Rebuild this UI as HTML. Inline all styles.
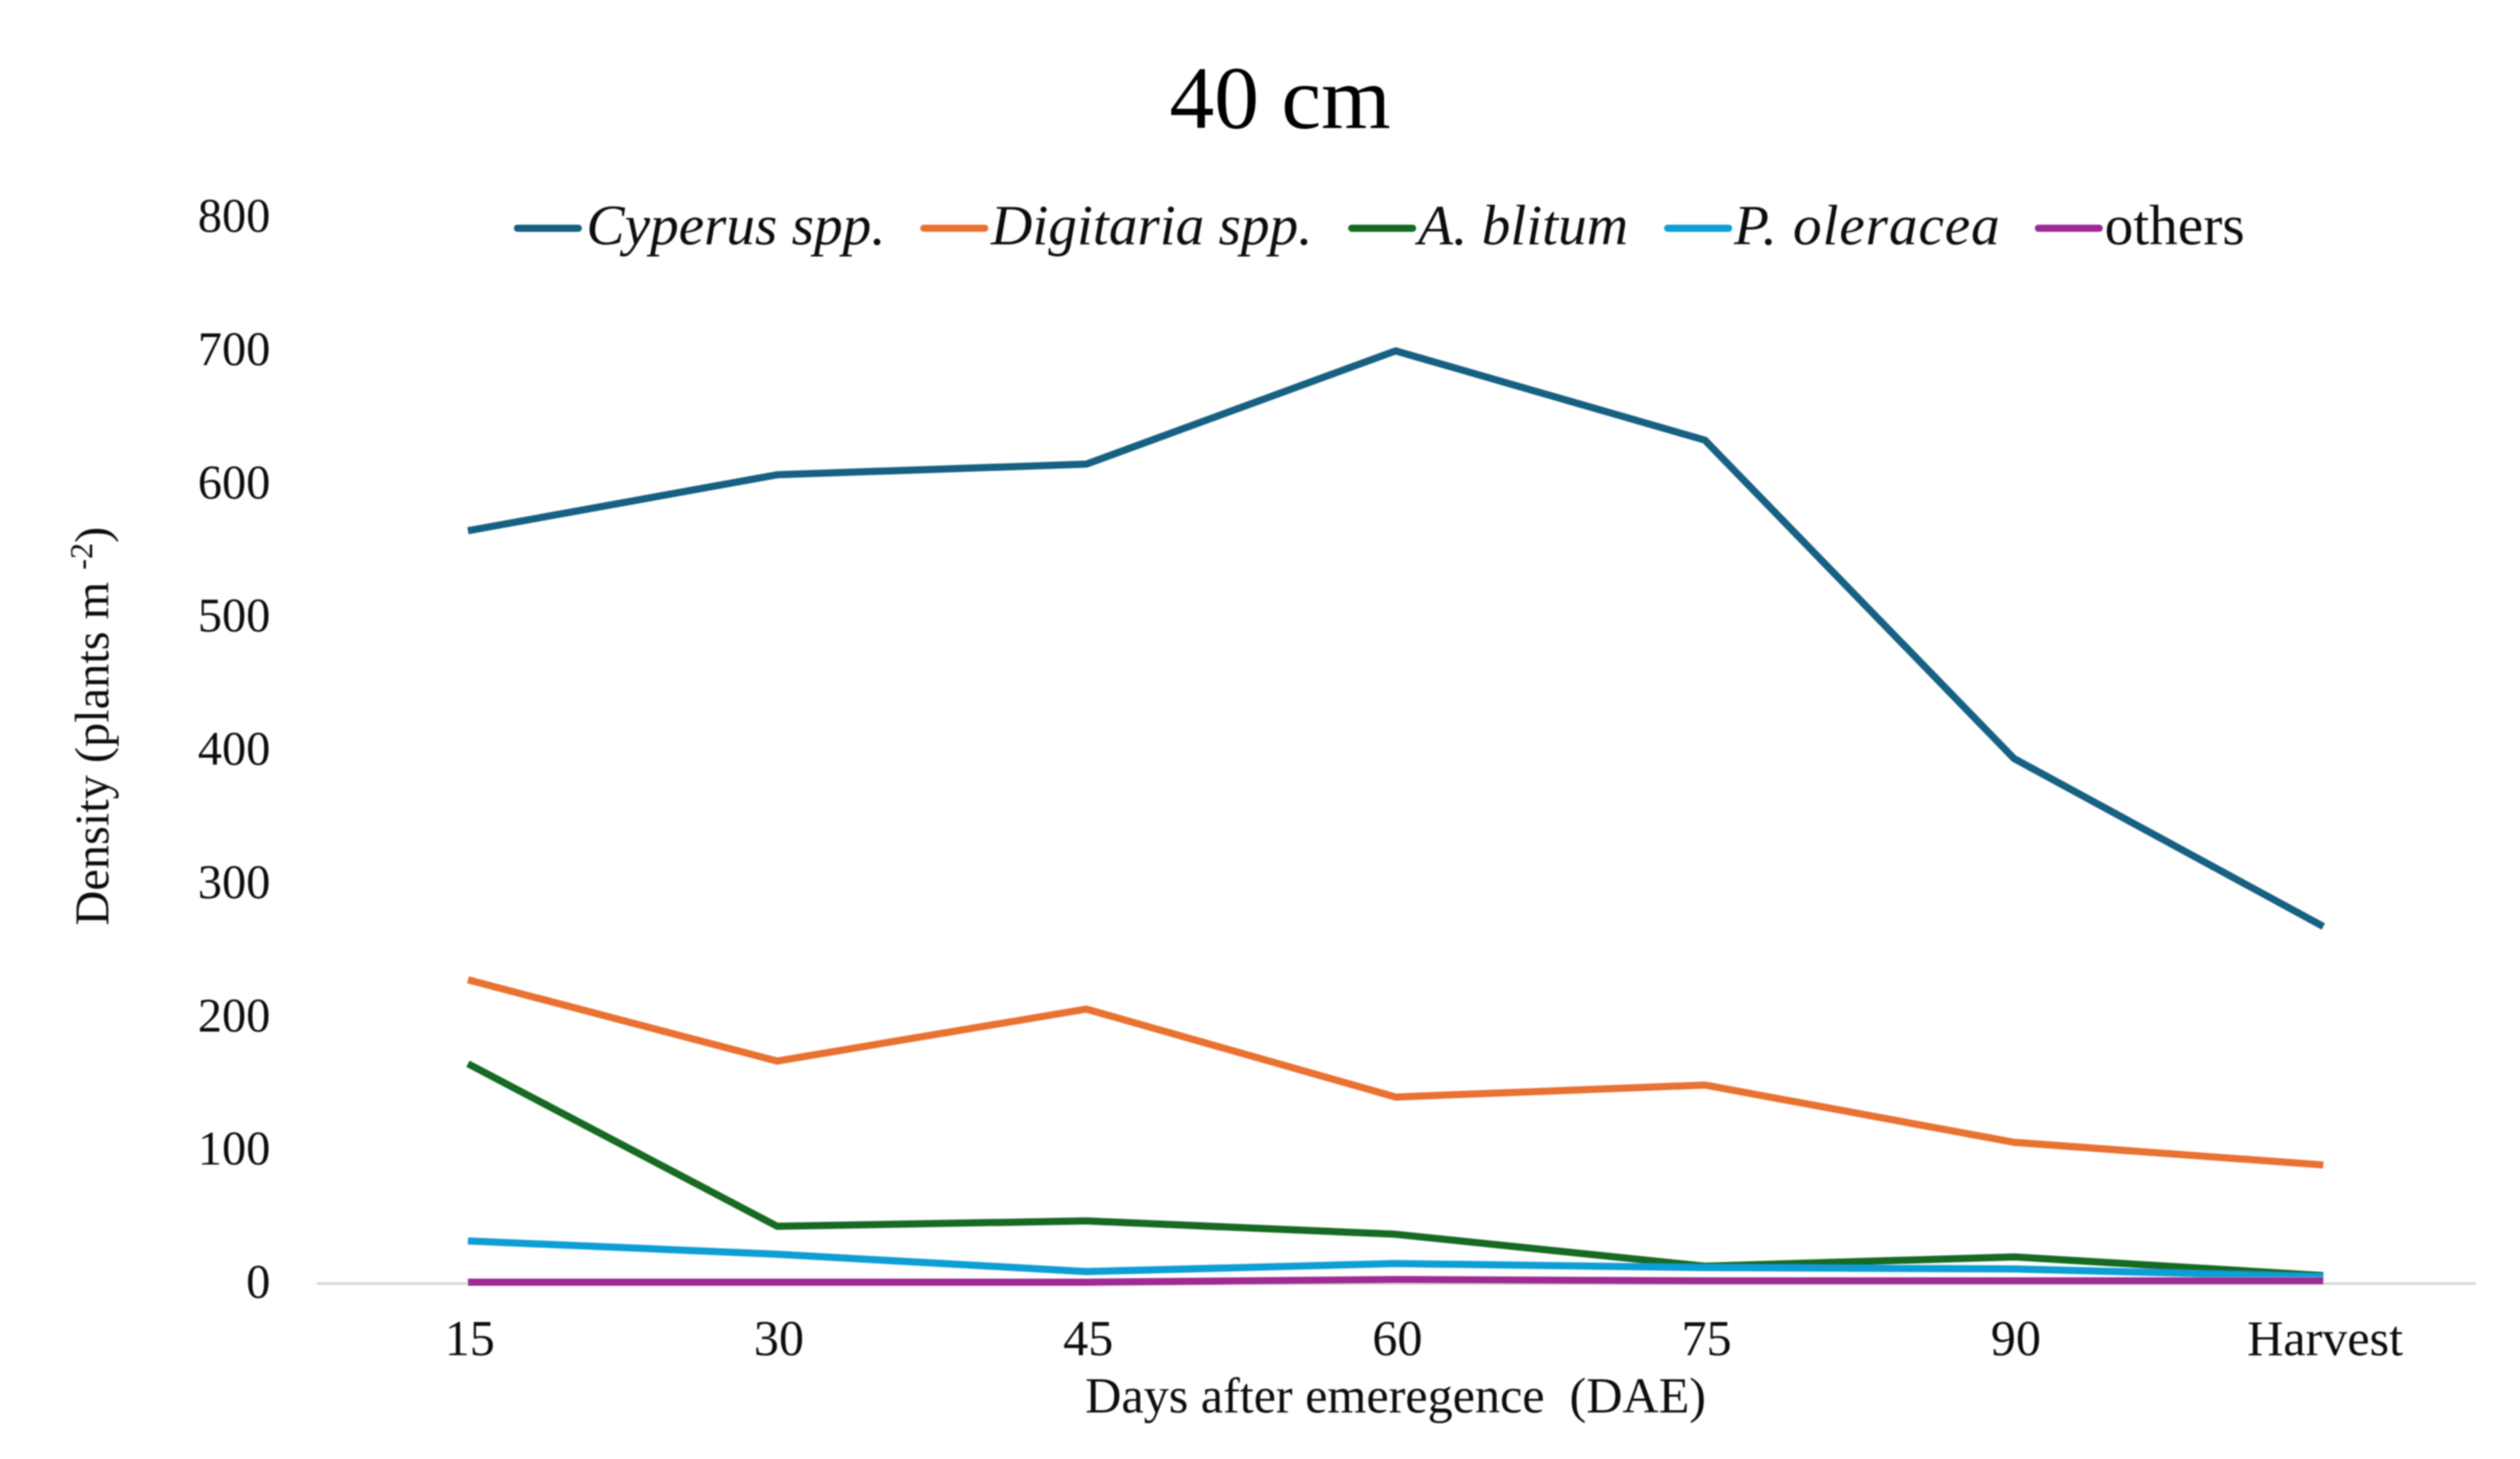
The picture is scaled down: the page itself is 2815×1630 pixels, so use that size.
<!DOCTYPE html>
<html lang="en">
<head>
<meta charset="utf-8">
<title>40 cm weed density chart</title>
<style>
html,body{margin:0;padding:0;background:#fff;width:2815px;height:1630px;overflow:hidden}
svg{display:block}
text{font-family:"Liberation Serif","Times New Roman",serif;fill:#111}
</style>
</head>
<body>
<svg id="chart" xmlns="http://www.w3.org/2000/svg" width="2815" height="1630" viewBox="0 0 2815 1630">
  <defs><filter id="soft" x="-2%" y="-2%" width="104%" height="104%"><feGaussianBlur stdDeviation="0.8"/></filter></defs>
  <rect x="0" y="0" width="2815" height="1630" fill="#ffffff"/>
  <g filter="url(#soft)">
  <text x="1430" y="143" font-size="100" text-anchor="middle" style="fill:#000">40 cm</text>
  <g id="y-ticks"></g>
  <g id="x-ticks"></g>
  <line id="x-axis" stroke="#d9d9d9" stroke-width="3"/>
  <g id="series"></g>
  <text x="1559" y="1578" font-size="56" text-anchor="middle" xml:space="preserve">Days after emeregence  (DAE)</text>
  <text transform="translate(121,1034) rotate(-90)" x="0" y="0" font-size="54" xml:space="preserve">Density (plants m <tspan font-size="36" dy="-18">-2</tspan><tspan dy="18">)</tspan></text>
  <g>
    <g>
      <line x1="578" y1="255" x2="646" y2="255" stroke="#156082" stroke-width="8" stroke-linecap="round"/>
      <text x="655" y="273" font-size="64" font-style="italic">Cyperus spp.</text>
    </g>
    <g>
      <line x1="1032" y1="255" x2="1100" y2="255" stroke="#E97132" stroke-width="8" stroke-linecap="round"/>
      <text x="1107" y="273" font-size="64" font-style="italic">Digitaria spp.</text>
    </g>
    <g>
      <line x1="1510" y1="255" x2="1578" y2="255" stroke="#196B24" stroke-width="8" stroke-linecap="round"/>
      <text x="1584" y="273" font-size="64" font-style="italic">A. blitum</text>
    </g>
    <g>
      <line x1="1863" y1="255" x2="1931" y2="255" stroke="#0F9ED5" stroke-width="8" stroke-linecap="round"/>
      <text x="1937" y="273" font-size="64" font-style="italic" letter-spacing="1">P. oleracea</text>
    </g>
    <g>
      <line x1="2277" y1="255" x2="2345" y2="255" stroke="#A02B93" stroke-width="8" stroke-linecap="round"/>
      <text x="2351" y="273" font-size="64">others</text>
    </g>
  </g>
  </g>
</svg>
<script>
const categories = ['15', '30', '45', '60', '75', '90', 'Harvest'];
const yTickValues = [0, 100, 200, 300, 400, 500, 600, 700, 800];
const cyperus = [565, 607, 615, 700, 633, 394, 268];
const digitaria = [228, 167, 206, 140, 149, 106, 89];
const aBlitum = [165, 43, 47, 37, 13, 20, 6];
const pOleracea = [32, 22, 9, 15, 12, 11, 5];
const others = [1, 1, 1, 3, 2, 2, 2];

const plotLeft = 350, plotRight = 2768, plotBottom = 1434, pxPerUnit = 1.4886;
const SVGNS = 'http://www.w3.org/2000/svg';
function xPos(i) { return plotLeft + (plotRight - plotLeft) * (i + 0.5) / categories.length; }
function yPos(v) { return plotBottom - v * pxPerUnit; }

const axis = document.getElementById('x-axis');
axis.setAttribute('x1', 354);
axis.setAttribute('x2', 2766);
axis.setAttribute('y1', yPos(0));
axis.setAttribute('y2', yPos(0));

const yGroup = document.getElementById('y-ticks');
yTickValues.forEach(function (v) {
  const t = document.createElementNS(SVGNS, 'text');
  
  
  t.setAttribute('x', 302);
  t.setAttribute('y', yPos(v) + 16);
  t.setAttribute('font-size', 54);
  t.setAttribute('text-anchor', 'end');
  t.textContent = v;
  yGroup.appendChild(t);
});

const xGroup = document.getElementById('x-ticks');
categories.forEach(function (c, i) {
  const t = document.createElementNS(SVGNS, 'text');
  
  
  t.setAttribute('x', xPos(i) + 2);
  t.setAttribute('y', 1514);
  t.setAttribute('font-size', 56);
  t.setAttribute('text-anchor', 'middle');
  t.textContent = c;
  xGroup.appendChild(t);
});

const seriesGroup = document.getElementById('series');
function drawSeries(values, color, name) {
  const p = document.createElementNS(SVGNS, 'polyline');
  
  
  p.setAttribute('points', values.map(function (v, i) { return xPos(i) + ',' + yPos(v); }).join(' '));
  p.setAttribute('fill', 'none');
  p.setAttribute('stroke', color);
  p.setAttribute('stroke-width', 8);
  p.setAttribute('stroke-linejoin', 'round');
  seriesGroup.appendChild(p);
}
drawSeries(cyperus, '#156082', 'series-cyperus');
drawSeries(digitaria, '#E97132', 'series-digitaria');
drawSeries(aBlitum, '#196B24', 'series-a-blitum');
drawSeries(pOleracea, '#0F9ED5', 'series-p-oleracea');
drawSeries(others, '#A02B93', 'series-others');
</script>
</body>
</html>
